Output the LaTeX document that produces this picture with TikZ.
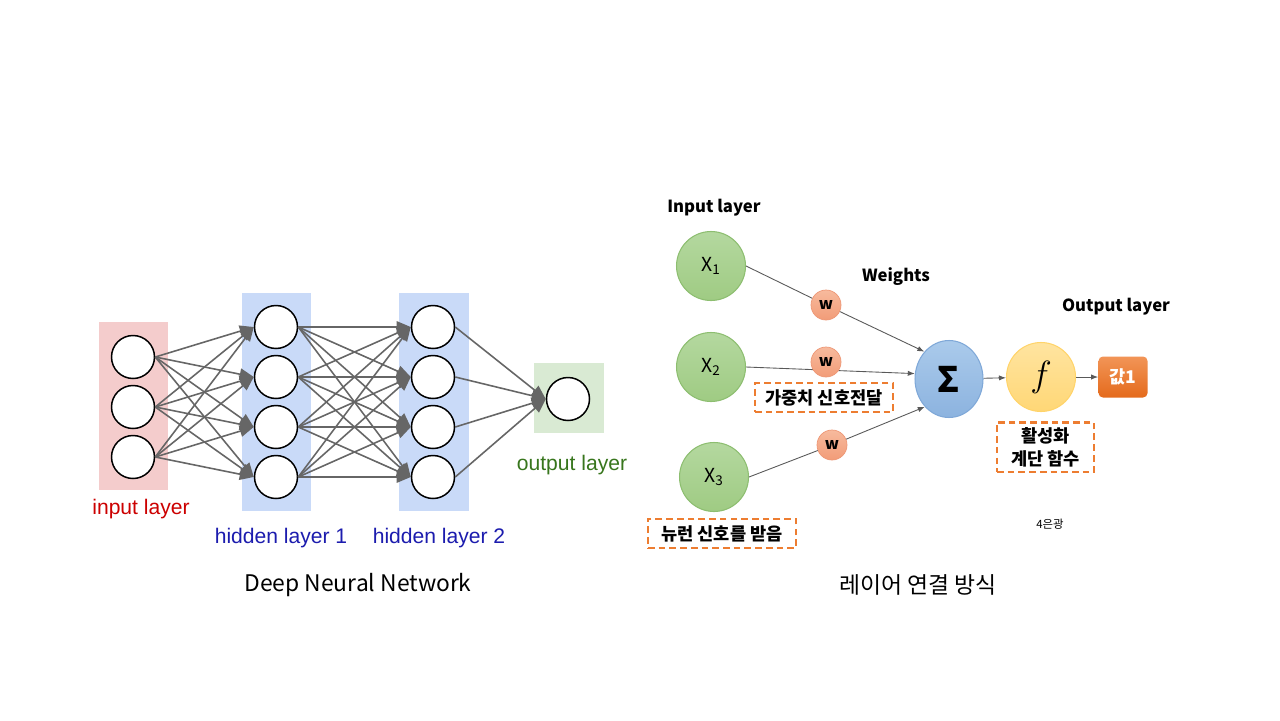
\documentclass[tikz,border=0pt]{standalone}
\usepackage{fontspec}
\setmainfont{Liberation Sans}
\newfontfamily\krfont{Noto Sans CJK KR}
\usetikzlibrary{
  arrows.meta,
  positioning,
  shapes.geometric,  % Shape "ellipse"
}
\definecolor{inpink}{HTML}{F4CCCC}
\definecolor{hidblue}{HTML}{C9DAF8}
\definecolor{outgreen}{HTML}{D9EAD3}
\definecolor{linkgray}{HTML}{666666}
\definecolor{inred}{HTML}{CC0000}
\definecolor{hidtext}{HTML}{1C1CAE}
\definecolor{outtext}{HTML}{38761D}
\definecolor{wiregray}{HTML}{595959}
\definecolor{orng}{HTML}{ED7D31}
\definecolor{xtop}{HTML}{B4D89F}
\definecolor{xbot}{HTML}{9FCB83}
\definecolor{xline}{HTML}{8DBE70}
\definecolor{wtop}{HTML}{F7BA9D}
\definecolor{wbot}{HTML}{F29C78}
\definecolor{wline}{HTML}{EE9877}
\definecolor{stop}{HTML}{AACAEB}
\definecolor{sbot}{HTML}{8CB3DF}
\definecolor{sline}{HTML}{7FA8D8}
\definecolor{ftop}{HTML}{FFE4A0}
\definecolor{fbot}{HTML}{FFD776}
\definecolor{fline}{HTML}{FFD46A}
\definecolor{vtop}{HTML}{F29557}
\definecolor{vbot}{HTML}{E46A1C}
\def\mynsize{0.86cm}
\def\myusize{1.38cm}
\tikzset{
  px/.style={x=0.02cm,y=-0.02cm},
  neuron/.style={
    circle,
    draw,
    line width=0.85pt,
    fill=white,
    minimum size=\mynsize,
    inner sep=0mm
  },
  layer/.style={
    rectangle,
    inner sep=0mm,
    minimum width=1.4cm
  },
  link/.style={
    draw=linkgray,
    line width=0.9pt,
    -{Triangle[length=8pt,width=6.5pt]}
  },
  lbl/.style={font=\fontsize{12}{14}\selectfont},
  unit/.style={
    circle,
    inner sep=0mm,
    line width=0.6pt,
    minimum size=\myusize,
    font=\krfont\fontsize{11}{13}\selectfont
  },
  xunit/.style={
    unit,
    draw=xline,
    top color=xtop,
    bottom color=xbot
  },
  weight/.style={
    circle,
    inner sep=0mm,
    minimum size=0.6cm,
    draw=wline,
    top color=wtop,
    bottom color=wbot,
    font=\krfont\bfseries\fontsize{9}{10}\selectfont
  },
  wire/.style={draw=wiregray, line width=0.5pt},
  wire arrow/.style={wire, -{Latex[length=4pt,width=3pt]}},
  note/.style={
    draw=orng,
    line width=1.4pt,
    dash pattern=on 3.8pt off 2.3pt,
    inner sep=1mm,
    align=center,
    font=\krfont\bfseries\fontsize{10}{13}\selectfont
  },
  title/.style={font=\krfont\bfseries\fontsize{9.5}{12}\selectfont},
  caption/.style={font=\krfont\fontsize{13}{15}\selectfont}
}

\begin{document}
\begin{tikzpicture}[px]
\path[fill=white,use as bounding box] (0,0) rectangle (1280,720);
% Deep neural network
\node[layer,fill=inpink,minimum height=3.36cm]  (inbox)  at (133.5,406) {};
\node[layer,fill=hidblue,minimum height=4.36cm] (hidA)   at (276.5,402) {};
\node[layer,fill=hidblue,minimum height=4.36cm] (hidB)   at (433.5,402) {};
\node[layer,fill=outgreen,minimum height=1.4cm] (outbox) at (569,398) {};
\foreach \i/\y in {1/357,2/407,3/457}
  \node[neuron] (i\i) at (133,\y) {};
\foreach \i/\y in {1/327,2/377,3/427,4/477} {
  \node[neuron] (a\i) at (276,\y) {};
  \node[neuron] (b\i) at (433,\y) {};
}
\node[neuron] (o) at (568,399) {};
\foreach \s in {1,2,3}
  \foreach \t in {1,...,4}
    \draw[link] (i\s.east) -- (a\t.west);
\foreach \s in {1,...,4} {
  \foreach \t in {1,...,4}
    \draw[link] (a\s.east) -- (b\t.west);
  \draw[link] (b\s.east) -- (o.west);
}
\node[lbl,text=inred]   (inlbl)  at (141,509) {input layer};
\node[lbl,text=hidtext] (hidAlbl) at (281,538) {hidden layer 1};
\node[lbl,text=hidtext] (hidBlbl) at (439,538) {hidden layer 2};
\node[lbl,text=outtext] (outlbl) at (572,465) {output layer};
\node[caption] (dnn) at (358,585) {Deep Neural Network};
% Layer connection
\node[xunit] (x1) at (711,266) {X\textsubscript{1}};
\node[xunit] (x2) at (711,367) {X\textsubscript{2}};
\node[xunit] (x3) at (714,477) {X\textsubscript{3}};
\node[ellipse,inner sep=0mm,minimum width=1.36cm,minimum height=1.54cm,
      draw=sline,line width=0.6pt,top color=stop,bottom color=sbot,
      font=\krfont\bfseries\fontsize{20}{22}\selectfont] (sum) at (949,379) {Σ};
\node[unit,draw=fline,top color=ftop,bottom color=fbot,
      font=\fontsize{22}{24}\selectfont] (act) at (1041,377) {$f$};
\node[rectangle,rounded corners=2.5pt,minimum width=0.98cm,minimum height=0.82cm,
      top color=vtop,bottom color=vbot,text=white,
      font=\krfont\bfseries\fontsize{10}{12}\selectfont] (val) at (1123,377) {값1};
\node[weight] (w1) at (826,305) {w};
\node[weight] (w3) at (832,445) {w};
\draw[wire] (x1.east) -- (w1);
\draw[wire arrow] (w1) -- (sum.132);
\draw[wire arrow] (x2.east) -- (sum.171);
\node[weight] (w2) at (826,362) {w};
\draw[wire] (x3.east) -- (w3);
\draw[wire arrow] (w3) -- (sum.229);
\draw[wire arrow] (sum) -- (act);
\draw[wire arrow] (act) -- (val);
\node[title] (intitle)  at (714,208)  {Input layer};
\node[title] (wtitle)   at (896,277)  {Weights};
\node[title] (outtitle) at (1116,307) {Output layer};
\node[note,minimum width=2.76cm,minimum height=0.58cm] (n1) at (824,397.5) {가중치 신호전달};
\node[note,minimum width=1.94cm,minimum height=0.92cm] (n2) at (1045.5,447) {활성화\\계단 함수};
\node[note,minimum width=2.96cm,minimum height=0.58cm] (n3) at (722,533.5) {뉴런 신호를 받음};
\node[font=\krfont\fontsize{6.5}{7}\selectfont] (sig) at (1050,524) {4은광};
\node[caption] (way) at (918,585) {레이어 연결 방식};
\end{tikzpicture}
\end{document}
